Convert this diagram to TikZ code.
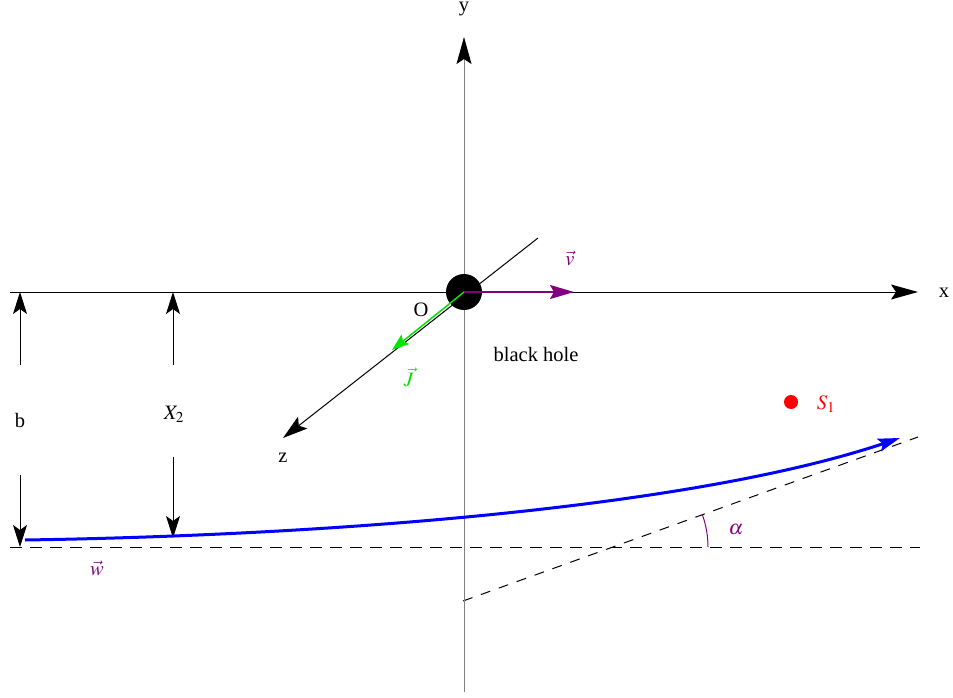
\documentclass[tikz,border=0pt]{standalone}
\usepackage{mathptmx}
\usepackage{fontspec}
\setmainfont{Liberation Serif}
\usetikzlibrary{arrows.meta}
\definecolor{vpurple}{RGB}{128,0,128}
\definecolor{jgreen}{RGB}{0,230,0}
\definecolor{wblue}{RGB}{0,0,255}
\definecolor{sred}{RGB}{255,0,0}
\tikzset{
  lbl/.style={inner sep=0pt, font=\fontsize{20.5}{24}\selectfont},
  axishead/.style={-{Stealth[length=27pt,width=15pt,inset=5pt,color=black]}},
  dimhead/.style={-{Stealth[length=22pt,width=14pt,inset=5pt]}},
  dashA/.style={dash pattern=on 12pt off 8pt, line width=1pt},
  dashB/.style={dash pattern=on 10pt off 9pt, line width=1pt},
}
\begin{document}
\begin{tikzpicture}[x=1pt,y=-1pt, line width=1pt]
\useasboundingbox (0,0) rectangle (953,698);
% coordinates
\coordinate (O) at (464,292);
\coordinate (ybot) at (464,692);
\coordinate (ytop) at (464,37);
\coordinate (xleft) at (10,292);
\coordinate (xright) at (918,292);
\coordinate (zup) at (538,238);
\coordinate (ztip) at (283,438);
\coordinate (Jtip) at (392,350);
\coordinate (vtip) at (574,292);
\coordinate (dl) at (10,547);
\coordinate (dr) at (920,547);
\coordinate (sa) at (463,601);
\coordinate (sb) at (918,437);
\coordinate (bt) at (20,292);
\coordinate (bm1) at (20,365);
\coordinate (bm2) at (20,475);
\coordinate (bb) at (20,547);
\coordinate (xt) at (173,292);
\coordinate (xm1) at (173,365);
\coordinate (xm2) at (173,457);
\coordinate (xb) at (173,538);
\coordinate (wstart) at (25,540);
\coordinate (wend) at (900,438);
% dashed lines
\draw[dashA] (dl) -- (dr);
\draw[dashB] (sa) -- (sb);
% axes
\draw[gray, axishead] (ybot) -- (ytop);
\draw[black, axishead] (xleft) -- (xright);
\draw[black, -{Stealth[length=25pt,width=15pt,inset=5pt]}] (zup) -- (ztip);
% black hole
\fill[black] (O) circle[radius=18];
% J and v
\draw[jgreen, line width=1.5pt, -{Stealth[length=17pt,width=12pt,inset=3pt]}] (O) -- (Jtip);
\draw[vpurple, line width=2pt, -{Stealth[length=24pt,width=14pt,inset=4pt]}] (O) -- (vtip);
% dimension arrows
\draw[dimhead] (bm1) -- (bt);
\draw[dimhead] (bm2) -- (bb);
\draw[dimhead] (xm1) -- (xt);
\draw[dimhead] (xm2) -- (xb);
% blue trajectory
\draw[wblue, line width=3pt, -{Stealth[length=22pt,width=13pt,inset=4pt]}]
  (wstart) .. controls (350,535) and (700,505) .. (wend);
% alpha arc
\draw[vpurple, line width=1pt] (708,547) arc[start angle=0, end angle=-19.8, radius=95];
% S1
\fill[sred] (791,402) circle[radius=7];
% labels
\node[lbl] (ylab) at (464,9) {y};
\node[lbl] (xlab) at (944,293) {x};
\node[lbl] (Olab) at (421,310) {O};
\node[lbl] (zlab) at (283,458) {z};
\node[lbl] (blab) at (20,420) {b};
\node[lbl] (X2lab) at (174,414) {$X_2$};
\node[lbl, text=vpurple] (wlab) at (97,568) {$\vec{w}$};
\node[lbl, text=vpurple] (vlab) at (570,258) {$\vec{v}$};
\node[lbl, text=jgreen] (Jlab) at (409,377) {$\vec{J}$};
\node[lbl] (bhlab) at (536,354) {black hole};
\node[lbl, text=vpurple] (alab) at (736,530) {$\alpha$};
\node[lbl, text=sred] (Slab) at (826,404) {$S_1$};
\end{tikzpicture}
\end{document}
